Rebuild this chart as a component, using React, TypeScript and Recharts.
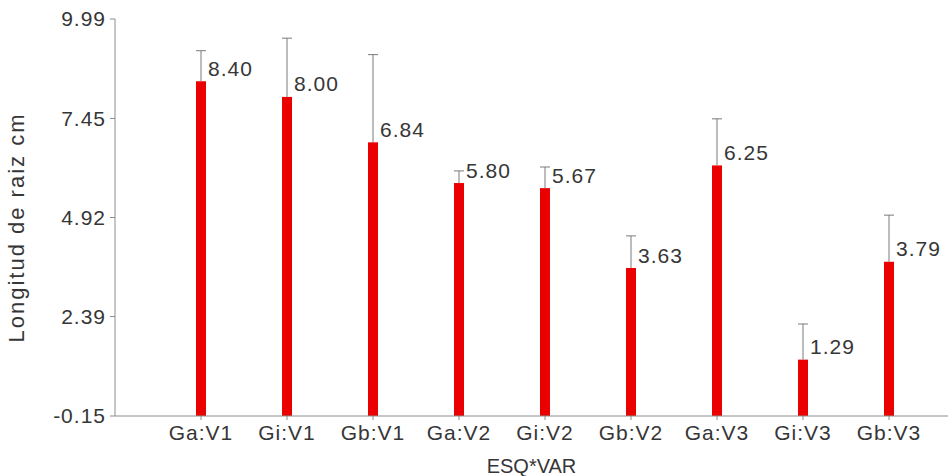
import { Bar, BarChart, LabelList, XAxis, YAxis } from "recharts";

// ESQ*VAR combinations and their mean root length (cm) with upper error
const categories = ["Ga:V1", "Gi:V1", "Gb:V1", "Ga:V2", "Gi:V2", "Gb:V2", "Ga:V3", "Gi:V3", "Gb:V3"];
const means = [8.4, 8.0, 6.84, 5.8, 5.67, 3.63, 6.25, 1.29, 3.79];
const errors = [0.78, 1.5, 2.24, 0.31, 0.54, 0.82, 1.19, 0.91, 1.19];

const yTicks = [-0.15, 2.39, 4.92, 7.45, 9.99];
const Y_MIN = yTicks[0];
const Y_MAX = yTicks[yTicks.length - 1];

const data = categories.map((name, i) => ({
  name,
  mean: means[i],
  err: errors[i],
}));

const TEXT = "#363636";
const AXIS = "#8c8c8c";
const FONT = "'Liberation Sans', Arial, sans-serif";

type ShapeProps = {
  x?: number;
  y?: number;
  width?: number;
  height?: number;
  payload?: { mean: number; err: number };
};

// bar drawn from the axis floor, plus an upper whisker scaled like the bar
function BarWithWhisker(props: ShapeProps) {
  const { x = 0, y = 0, width = 0, height = 0, payload } = props;
  if (!payload) return null;
  const pxPerUnit = height / (payload.mean - Y_MIN);
  const cx = x + width / 2;
  const top = y - payload.err * pxPerUnit;
  return (
    <g>
      <rect x={x} y={y} width={width} height={height} fill="#ea0000" />
      <line x1={cx} y1={y} x2={cx} y2={top} stroke="#7a7a7a" strokeWidth={1} />
      <line x1={cx - 5} y1={top} x2={cx + 5} y2={top} stroke="#7a7a7a" strokeWidth={1} />
    </g>
  );
}

type LabelProps = {
  x?: number;
  y?: number;
  width?: number;
  index?: number;
};

function MeanLabel(props: LabelProps) {
  const { x = 0, y = 0, width = 0, index = 0 } = props;
  return (
    <text
      x={Number(x) + Number(width) / 2 + 7}
      y={Number(y) - 13}
      dominantBaseline="central"
      fontSize={21}
      letterSpacing={1}
      fontFamily={FONT}
      fill={TEXT}
    >
      {means[index].toFixed(2)}
    </text>
  );
}

export default function App() {
  return (
    <div style={{ position: "absolute", left: 0, top: 0, background: "#fff" }}>
      <BarChart
        width={948}
        height={476}
        data={data}
        margin={{ top: 19, right: 0, bottom: 0, left: 0 }}
        barCategoryGap={0}
      >
        <XAxis
          dataKey="name"
          height={60}
          padding={{ left: 43, right: 16 }}
          stroke={AXIS}
          tickSize={4}
          tickMargin={5}
          interval={0}
          tick={{ fontSize: 21, fill: TEXT, fontFamily: FONT, letterSpacing: 1 }}
          label={{
            value: "ESQ*VAR",
            position: "insideBottom",
            offset: 3,
            style: { fontSize: 20, fill: TEXT, fontFamily: FONT },
          }}
        />
        <YAxis
          width={115}
          type="number"
          domain={[Y_MIN, Y_MAX]}
          ticks={yTicks}
          tickFormatter={(v) => Number(v).toFixed(2)}
          stroke={AXIS}
          tickSize={5}
          tickMargin={4}
          interval={0}
          tick={{ fontSize: 21, fill: TEXT, fontFamily: FONT, letterSpacing: 1 }}
          label={{
            value: "Longitud de raiz cm",
            angle: -90,
            position: "insideLeft",
            offset: 16,
            dy: 10,
            style: { fontSize: 22, fill: TEXT, fontFamily: FONT, letterSpacing: 2, textAnchor: "middle" },
          }}
        />
        <Bar
          dataKey={(d: { mean: number }) => [Y_MIN, d.mean]}
          barSize={10}
          shape={(p: ShapeProps) => <BarWithWhisker {...p} />}
          isAnimationActive={false}
        >
          <LabelList content={(p: LabelProps) => <MeanLabel {...p} />} />
        </Bar>
      </BarChart>
    </div>
  );
}
